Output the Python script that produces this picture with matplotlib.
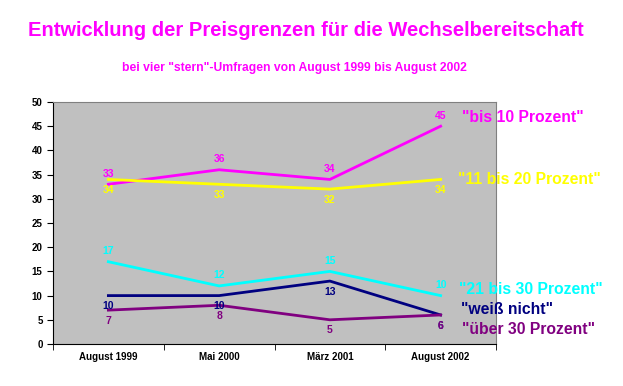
import matplotlib.pyplot as plt

plt.rcParams['font.family'] = ['Liberation Sans', 'DejaVu Sans']

kategorien = ['August 1999', 'Mai 2000', 'März 2001', 'August 2002']
bis10 = [33, 36, 34, 45]
bis20 = [34, 33, 32, 34]
bis30 = [17, 12, 15, 10]
weiss_nicht = [10, 10, 13, 6]
ueber30 = [7, 8, 5, 6]

# name, werte, farbe, beschriftung oben/unten, position der legende (pixel)
reihen = [
    ('"bis 10 Prozent"', bis10, '#ff00ff', 'oben', (462, 118)),
    ('"11 bis 20 Prozent"', bis20, '#ffff00', 'unten', (458, 180)),
    ('"21 bis 30 Prozent"', bis30, '#00ffff', 'oben', (459, 289)),
    ('"weiß nicht"', weiss_nicht, '#000080', 'unten', (461, 310)),
    ('"über 30 Prozent"', ueber30, '#800080', 'unten', (462, 329)),
]

W, H = 623, 386
fig = plt.figure(figsize=(6.23, 3.86), dpi=100)
ax = fig.add_axes([53/W, 42/H, 443/W, 242/H])
ax.set_facecolor('#c0c0c0')
x = range(len(kategorien))

for name, werte, farbe, pos, (lx, ly) in reihen:
    ax.plot(x, werte, color=farbe, lw=2)
    for i, w in enumerate(werte):
        if pos == 'oben':
            ax.annotate(str(w), (i, w), xytext=(0, 4), textcoords='offset points',
                        ha='center', va='bottom', color=farbe, fontsize=7.5, fontweight='bold')
        else:
            ax.annotate(str(w), (i, w), xytext=(0, -4), textcoords='offset points',
                        ha='center', va='top', color=farbe, fontsize=7.5, fontweight='bold')
    fig.text(lx/W, 1 - ly/H, name, color=farbe, fontsize=11.3, fontweight='bold',
             va='center', ha='left')

ax.set_xlim(-0.5, 3.5)
ax.set_ylim(0, 50)
ax.set_yticks(range(0, 51, 5))
ax.set_xticks(x)
ax.set_xticklabels(kategorien, fontsize=7, fontweight='bold')
ax.set_xticks([-0.5, 0.5, 1.5, 2.5, 3.5], minor=True)
ax.tick_params(axis='x', which='major', length=0, pad=6)
ax.tick_params(axis='x', which='minor', length=4, direction='out')
ax.tick_params(axis='y', labelsize=7, length=4, direction='out')
for lab in ax.get_yticklabels():
    lab.set_fontweight('bold')
ax.spines['top'].set_color('#808080')
ax.spines['right'].set_color('#808080')

fig.text(0.491, 0.92, 'Entwicklung der Preisgrenzen für die Wechselbereitschaft',
         ha='center', va='center', color='#ff00ff', fontsize=14.5, fontweight='bold')
fig.text(0.473, 0.823, 'bei vier "stern"-Umfragen von August 1999 bis August 2002',
         ha='center', va='center', color='#ff00ff', fontsize=8.7, fontweight='bold')

fig.savefig('out.png', dpi=100)
